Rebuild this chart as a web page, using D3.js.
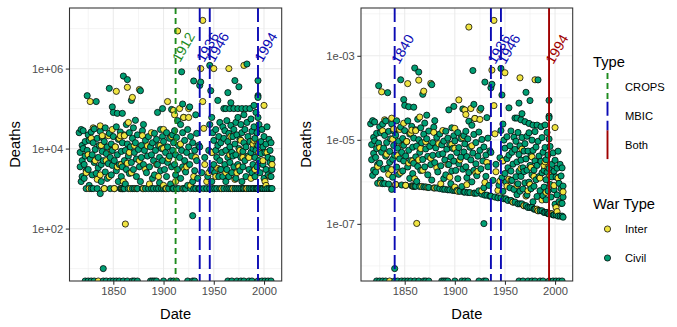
<!DOCTYPE html>
<html><head><meta charset="utf-8">
<script src="https://cdn.jsdelivr.net/npm/d3@7"></script>
<style>
body{margin:0;background:#fff}
text{font-family:"Liberation Sans",Arial,Helvetica,sans-serif}
</style>
</head><body>
<svg id="chart" width="677" height="327"></svg>
<script>
// ---- DATA ----
// Civil wars: [start year, battle deaths]  (0 = no deaths recorded)
const civilWars = [
[1816,25000],[1817,8000],[1817,3500],[1818,1500],[1818,30000],[1819,12000],[1819,5000],[1819,2000],
[1820,28000],[1820,10000],[1821,4000],[1821,1800],[1822,15000],[1822,6500],[1823,1000],[1823,2800],[1824,210000],[1824,9000],[1825,22000],[1825,3000],[1826,1200],[1826,16000],[1827,5500],[1828,1000],[1828,26000],[1829,7000],[1829,2200],
[1830,14000],[1830,1000],[1831,4500],[1831,31000],[1832,9500],[1833,150000],[1833,2400],[1834,18000],[1834,1000],[1835,6000],[1835,3300],[1836,12000],[1837,750],[1837,27000],[1838,4000],[1838,1500],[1839,8500],[1839,19000],
[1840,10],[1840,5000],[1841,1000],[1841,15000],[1842,2600],[1842,33000],[1843,7500],[1844,1800],[1844,11000],[1845,4200],[1846,320000],[1846,24000],[1847,1000],[1847,6000],[1848,13000],[1848,2200],[1849,110000],[1849,3800],[1849,9000],
[1850,80000],[1850,20000],[1851,5000],[1851,1000],[1852,11000],[1853,2800],[1853,35000],[1854,76000],[1854,7000],[1855,1500],[1855,17000],[1856,4000],[1857,1000],[1857,26000],[1858,1000],[1858,8500],[1858,2000],[1859,1000],[1859,76000],[1859,14000],[1859,3500],
[1860,650000],[1860,1000],[1861,1000],[1861,22000],[1861,5000],[1862,9000],[1862,1300],[1863,40000],[1863,3000],[1864,530000],[1864,13000],[1865,1000],[1865,6500],[1866,25000],[1866,2400],[1867,11000],[1868,160000],[1868,4500],[1869,1000],[1869,18000],
[1870,33000],[1870,3000],[1871,8000],[1871,1000],[1872,51000],[1872,14000],[1873,2000],[1873,5500],[1874,1000],[1874,22000],[1875,9500],[1876,3500],[1877,280000],[1877,1500],[1878,12000],[1878,6000],[1879,1000],[1879,28000],
[1880,40000],[1880,4000],[1881,9000],[1882,1000],[1882,16000],[1883,2500],[1884,6500],[1885,1000],[1885,20000],[1886,3500],[1887,11000],[1888,1000],[1888,7000],[1889,1800],[1889,14000],
[1890,5000],[1890,1000],[1891,24000],[1891,2200],[1892,9000],[1893,1000],[1893,17000],[1894,80000],[1894,4000],[1895,12000],[1895,1000],[1896,1400],[1896,6000],[1897,30000],[1897,2800],[1898,1000],[1898,10000],[1899,100000],[1899,20000],[1899,5000],
[1900,15000],[1900,1000],[1901,3000],[1902,8000],[1902,1000],[1903,25000],[1903,2000],[1904,11000],[1904,4500],[1905,1000],[1906,18000],[1906,6500],[1907,1300],[1908,95000],[1908,3500],[1909,22000],[1909,1000],[1909,9000],
[1910,1000],[1910,14000],[1911,4000],[1911,28000],[1912,2200],[1912,7000],[1913,1000],[1913,19000],[1914,50000],[1914,3000],[1915,1000],[1915,12000],[1916,6000],[1917,1800],[1917,40000],[1918,830000],[1918,9000],[1919,130000],[1919,3500],[1919,25000],
[1920,1000],[1920,60000],[1921,5000],[1921,16000],[1922,1000],[1922,2600],[1923,8000],[1924,30000],[1924,1200],[1925,11000],[1926,110000],[1926,4000],[1927,1000],[1927,20000],[1928,6500],[1929,210],[1929,1500],[1929,14000],
[1930,490000],[1930,1000],[1931,2800],[1931,9000],[1932,70000],[1932,1000],[1933,5000],[1933,24000],[1934,1800],[1935,12000],[1935,1000],
[1936,380000],[1936,11000],[1936,1000],[1937,460000],[1938,2500],[1940,1000],[1941,6000],[1943,1000],[1944,2000],[1945,9000],[1946,1200000],[1946,1000],[1946,40000],[1947,280000],[1947,3000],
[1948,8000],[1948,1500],[1948,60000],[1949,1000],[1949,25000],[1950,4000],[1950,16000],[1951,1000],[1951,2500],[1952,9000],[1952,30000],[1953,6000],[1953,1000],[1954,160000],[1954,12000],[1955,2000],[1955,20000],[1956,1000],[1956,5000],[1956,45000],[1957,3000],[1957,14000],[1958,8000],[1958,1000],[1959,35000],[1959,2000],
[1960,1000],[1960,18000],[1960,100000],[1961,4000],[1961,28000],[1962,1500],[1962,100000],[1962,9000],[1963,1000],[1963,50000],[1963,3000],[1964,250000],[1964,15000],[1964,6000],[1965,1000],[1965,24000],[1965,2000],[1966,100000],[1966,11000],[1966,4500],[1967,140000],[1967,1000],[1967,38000],[1968,8000],[1968,2500],[1969,20000],[1969,1000],[1969,6500],
[1970,100000],[1970,30000],[1970,3500],[1971,500000],[1971,1000],[1971,13000],[1972,45000],[1972,7000],[1972,1800],[1973,1000],[1973,22000],[1974,100000],[1974,4000],[1974,60000],[1975,350000],[1975,1000],[1975,10000],[1976,17000],[1976,2800],[1977,1000],[1977,40000],[1977,6000],[1978,100000],[1978,1500],[1978,25000],[1979,8500],[1979,3500],[1979,1000],
[1980,70000],[1980,14000],[1980,1000],[1981,5000],[1981,30000],[1982,100000],[1982,2000],[1982,11000],[1983,1300000],[1983,1000],[1983,45000],[1984,6500],[1984,20000],[1985,1000],[1985,3000],[1986,100000],[1986,15000],[1987,1000],[1987,55000],[1987,8000],[1988,2500],[1988,27000],[1989,1000],[1989,10000],[1989,4000],
[1990,120000],[1990,35000],[1990,1000],[1991,6000],[1991,18000],[1991,2000],[1992,80000],[1992,1000],[1992,9000],[1993,3500],[1993,25000],[1993,1000],[1994,500000],[1994,210000],[1994,190000],[1994,60000],[1994,12000],[1994,1000],[1995,5000],[1995,40000],[1996,1000],[1996,2500],[1997,15000],[1997,7500],[1998,1000],[1998,30000],[1999,4000],[1999,11000],[1999,1000],
[2000,20000],[2000,1800],[2001,1000],[2001,8000],[2002,3000],[2002,13000],[2003,1000],[2003,35000],[2004,6000],[2004,2200],[2005,1000],[2005,17000],[2006,9000],[2006,4500],[2007,1000],[2007,14000],[2007,2000],[2008,5500],[2008,1000],[2008,3000],
[1822,0],[1825,0],[1828,0],[1831,0],[1840,0],[1843,0],[1847,0],[1850,0],[1853,0],[1856,0],[1860,0],[1864,0],[1869,0],[1871,0],[1874,0],[1887,0],[1889,0],[1891,0],[1893,0],[1900,0],[1907,0],[1910,0],[1913,0],[1924,0],[1929,0],[1931,0],[1964,0],[1968,0],[1973,0],[1977,0],[1980,0],[1985,0],[1988,0],[1994,0],[1998,0],[2001,0],[2004,0],[2007,0]
];
// Interstate wars: [start year, battle deaths]
const interWars = [
[1823,2500],[1825,7000],[1826,1000],[1827,150000],[1828,18000],[1830,33000],[1832,5000],[1834,1700],[1835,0],[1837,37000],[1837,2200],[1838,12000],[1839,21000],
[1841,1000],[1843,5000],[1845,21000],[1846,2000],[1848,9000],[1849,30000],[1851,1000],[1852,11000],[1853,270000],[1854,3500],[1856,18000],[1857,21000],[1858,4000],[1859,1000],
[1860,1500],[1861,21000],[1862,130],[1864,4300],[1864,340000],[1865,45000],[1866,8000],[1867,1000],[1868,2500],[1869,190000],[1871,12000],[1873,1000],[1876,300000],[1876,5000],[1879,21000],
[1880,1000],[1882,3000],[1884,11700],[1886,1300],[1888,25000],[1893,4000],[1895,2000],[1897,12000],[1900,30000],[1900,10000],[1900,1200],[1903,1000],[1904,150000],[1905,5600],[1908,20000],
[1910,90000],[1911,70000],[1912,1500],[1914,8700000],[1916,100000],[1917,13000],[1919,1000],[1920,60000],[1921,3000],[1923,3500],[1925,100000],[1925,60000],[1927,1200],[1930,2000],[1932,6000],
[1937,1000000],[1939,16000000],[1939,150000],[1940,32000],[1941,4000],[1943,1500],[1945,2500],[1948,8000],[1950,1000000],[1952,2000],[1954,3200],[1956,3000],[1958,1000],
[1962,2500],[1965,1000000],[1966,7000],[1967,20000],[1969,1000],[1971,1700],[1973,2500],[1975,3500],[1976,9000],[1977,16000],[1979,6000],
[1980,1200000],[1982,1000],[1983,1000],[1985,6000],[1987,1800],[1989,13000],[1990,16000],[1991,3000],[1993,12500],[1995,8000],[1997,1000],[1999,5000],
[2000,120000],[2001,1500],[2002,1200],[2003,8000],[2006,2000],[2008,4000]
];
// World population (billions) every 5 years, used for deaths per capita (right panel)
const popYears = [1810,1815,1820,1825,1830,1835,1840,1845,1850,1855,1860,1865,1870,1875,1880,1885,1890,1895,1900,1905,1910,1915,1920,1925,1930,1935,1940,1945,1950,1955,1960,1965,1970,1975,1980,1985,1990,1995,2000,2005,2010];
const worldPop = [1.02,1.04,1.05,1.08,1.10,1.13,1.16,1.19,1.21,1.24,1.27,1.29,1.32,1.36,1.40,1.45,1.50,1.55,1.60,1.68,1.75,1.80,1.86,1.96,2.07,2.19,2.30,2.40,2.53,2.77,3.03,3.34,3.70,4.07,4.46,4.87,5.33,5.74,6.13,6.52,6.92];

const xTicks = [1850,1900,1950,2000];
const xMinor = [1825,1875,1925,1975];
const leftYTicks = [1e2,1e4,1e6];
const leftYLabels = ["1e+02","1e+04","1e+06"];
const leftYMinor = [1e1,1e3,1e5,1e7];
const rightYTicks = [1e-7,1e-5,1e-3];
const rightYLabels = ["1e-07","1e-05","1e-03"];
const rightYMinor = [1e-8,1e-6,1e-4,1e-2];

const leftBreakYears = [1912,1936,1946,1994];
const leftBreakTypes = ["CROPS","MBIC","MBIC","MBIC"];
const rightBreakYears = [1840,1936,1946,1994];
const rightBreakTypes = ["MBIC","MBIC","MBIC","Both"];

const typeNames = ["CROPS","MBIC","Both"];
const warTypeNames = ["Inter","Civil"];

// ---- STYLE ----
const typeColor = {CROPS:"#1E8B1E", MBIC:"#0A0AB4", Both:"#A00000"};
const typeDash = {CROPS:"6,4", MBIC:"14,5", Both:null};
const warColor = {Inter:"#F0E442", Civil:"#009E73"};

const svg = d3.select("#chart");

function popFor(y){ const i = Math.max(0, Math.min(popYears.length-1, Math.round((y-popYears[0])/5))); return worldPop[i]*1e9; }

const points = [];
civilWars.forEach(d=>points.push({date:d[0], deaths:d[1], type:"Civil"}));
interWars.forEach(d=>points.push({date:d[0], deaths:d[1], type:"Inter"}));
points.forEach(p=>{ p.rate = p.deaths / popFor(p.date); });
points.sort((a,b)=>a.date-b.date);

const dExt = d3.extent(points, p=>p.date);
const dPad = (dExt[1]-dExt[0])*0.05;

function logDomain(vals){
  const pos = vals.filter(v=>v>0).map(Math.log10);
  const lo = d3.min(pos), hi = d3.max(pos), pad = (hi-lo)*0.05;
  return [Math.pow(10,lo-pad), Math.pow(10,hi+pad)];
}

function panel(opts){
  const {x0,x1,y0,y1,field,yTicks,yLabels,yMinor,breakYears,breakTypes,clipId,titleX} = opts;
  const x = d3.scaleLinear().domain([dExt[0]-dPad, dExt[1]+dPad]).range([x0,x1]);
  const y = d3.scaleLog().domain(logDomain(points.map(p=>p[field]))).range([y1,y0]);
  const g = svg.append("g");
  g.append("defs").append("clipPath").attr("id",clipId).append("rect")
    .attr("x",x0).attr("y",y0).attr("width",x1-x0).attr("height",y1-y0);
  g.append("rect").attr("x",x0).attr("y",y0).attr("width",x1-x0).attr("height",y1-y0).attr("fill","#fff");
  // grid
  const grid = g.append("g");
  grid.selectAll(".xmn").data(xMinor).join("line").attr("x1",d=>x(d)).attr("x2",d=>x(d)).attr("y1",y0).attr("y2",y1).attr("stroke","#EBEBEB").attr("stroke-width",0.55);
  grid.selectAll(".ymn").data(yMinor.filter(v=>v>y.domain()[0]&&v<y.domain()[1])).join("line").attr("x1",x0).attr("x2",x1).attr("y1",d=>y(d)).attr("y2",d=>y(d)).attr("stroke","#EBEBEB").attr("stroke-width",0.55);
  grid.selectAll(".xmj").data(xTicks).join("line").attr("x1",d=>x(d)).attr("x2",d=>x(d)).attr("y1",y0).attr("y2",y1).attr("stroke","#EBEBEB").attr("stroke-width",1.1);
  grid.selectAll(".ymj").data(yTicks).join("line").attr("x1",x0).attr("x2",x1).attr("y1",d=>y(d)).attr("y2",d=>y(d)).attr("stroke","#EBEBEB").attr("stroke-width",1.1);
  // points
  const pg = g.append("g").attr("clip-path",`url(#${clipId})`);
  pg.selectAll("circle").data(points).join("circle")
    .attr("cx",d=>x(d.date))
    .attr("cy",d=>d[field]>0 ? y(d[field]) : y1)
    .attr("r",3.1)
    .attr("fill",d=>warColor[d.type]).attr("stroke","#000").attr("stroke-width",0.75);
  // change-point lines
  const bl = breakYears.map((yr,i)=>({year:yr,type:breakTypes[i]}));
  pg.selectAll("line.brk").data(bl).join("line").attr("class","brk")
    .attr("x1",d=>x(d.year)).attr("x2",d=>x(d.year)).attr("y1",y0).attr("y2",y1)
    .attr("stroke",d=>typeColor[d.type]).attr("stroke-width",1.9)
    .attr("stroke-dasharray",d=>typeDash[d.type]);
  const maxVal = d3.max(points, p=>p[field]);
  pg.selectAll("text.brk").data(bl).join("text").attr("class","brk")
    .attr("transform",d=>`translate(${x(d.year)},${y(maxVal/10)}) rotate(-60)`)
    .attr("fill",d=>typeColor[d.type]).attr("font-size",14).attr("dominant-baseline","central")
    .text(d=>d.year);
  // border
  g.append("rect").attr("x",x0).attr("y",y0).attr("width",x1-x0).attr("height",y1-y0)
    .attr("fill","none").attr("stroke","#333").attr("stroke-width",1.07);
  // axes
  const xa = g.append("g").attr("transform",`translate(0,${y1})`)
    .call(d3.axisBottom(x).tickValues(xTicks).tickFormat(d3.format("d")).tickSize(3.7).tickPadding(2.5));
  xa.select(".domain").remove();
  xa.selectAll("line").attr("stroke","#333").attr("stroke-width",1.07);
  xa.selectAll("text").attr("fill","#4D4D4D").attr("font-size",11.2).attr("font-family","Liberation Sans, Arial, sans-serif");
  const ya = g.append("g").attr("transform",`translate(${x0},0)`)
    .call(d3.axisLeft(y).tickValues(yTicks).tickFormat((d,i)=>yLabels[i]).tickSize(3.7).tickPadding(2.5));
  ya.select(".domain").remove();
  ya.selectAll("line").attr("stroke","#333").attr("stroke-width",1.07);
  ya.selectAll("text").attr("fill","#4D4D4D").attr("font-size",11.2).attr("font-family","Liberation Sans, Arial, sans-serif");
  // titles
  g.append("text").attr("x",(x0+x1)/2).attr("y",318.5).attr("text-anchor","middle").attr("font-size",14.7).text("Date");
  g.append("text").attr("transform",`translate(${titleX},${(y0+y1)/2}) rotate(-90)`).attr("text-anchor","middle").attr("font-size",14.7).attr("dominant-baseline","central").text("Deaths");
}

panel({x0:69.5,x1:281.7,y0:8,y1:281,field:"deaths",yTicks:leftYTicks,yLabels:leftYLabels,yMinor:leftYMinor,
  breakYears:leftBreakYears,breakTypes:leftBreakTypes,clipId:"clipL",titleX:15});
panel({x0:361,x1:572.7,y0:8,y1:281,field:"rate",yTicks:rightYTicks,yLabels:rightYLabels,yMinor:rightYMinor,
  breakYears:rightBreakYears,breakTypes:rightBreakTypes,clipId:"clipR",titleX:306});

// ---- LEGENDS ----
const lg = svg.append("g");
lg.append("text").attr("x",593).attr("y",67).attr("font-size",14.7).text("Type");
const keyTop = 73, keyH = 28.7;
typeNames.forEach((t,i)=>{
  const cy = keyTop + keyH*i;
  lg.append("line").attr("x1",607.5).attr("x2",607.5).attr("y1",cy).attr("y2",cy+keyH)
    .attr("stroke",typeColor[t]).attr("stroke-width",1.9).attr("stroke-dasharray",typeDash[t]);
  lg.append("text").attr("x",625).attr("y",cy+keyH/2).attr("dominant-baseline","central").attr("font-size",11.2).text(t);
});
lg.append("text").attr("x",593).attr("y",208.5).attr("font-size",14.7).text("War Type");
warTypeNames.forEach((t,i)=>{
  const cy = 229 + 29*i;
  lg.append("circle").attr("cx",607.5).attr("cy",cy).attr("r",3.1).attr("fill",warColor[t]).attr("stroke","#000").attr("stroke-width",0.75);
  lg.append("text").attr("x",625).attr("y",cy).attr("dominant-baseline","central").attr("font-size",11.2).text(t);
});
</script>
</body></html>
